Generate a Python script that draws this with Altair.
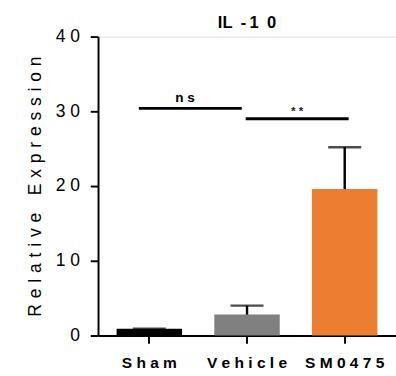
import altair as alt
import pandas as pd

# ---- data ----
groups = ["Sham", "Vehicle", "SM0475"]
means = [0.9, 2.8, 19.6]
uppers = [0.9, 4.0, 25.2]
colors = ["#000000", "#808080", "#ED7D31"]

ns_y = 30.4
star_y = 29.0

FONT = "Liberation Sans"
GAP = "\u2005\u200a"

df = pd.DataFrame({"group": groups, "mean": means, "upper": uppers})

x_scale = alt.Scale(domain=groups, paddingInner=0.33, paddingOuter=0.19)
y_scale = alt.Scale(domain=[0, 40], nice=False)
color_scale = alt.Scale(domain=groups, range=colors)

x_axis = alt.Axis(
    title=None, labelAngle=0, grid=False,
    labelExpr="join(split(datum.label, ''), '\u00a0')",
    labelFont=FONT, labelFontWeight="bold", labelFontSize=16, labelColor="black",
    labelPadding=12, tickSize=8, tickWidth=2, tickColor="black",
    domainColor="black", domainWidth=2,
)
y_axis = alt.Axis(
    title=GAP.join("Relative") + "\u2003" + GAP.join("Expression"),
    titleFont=FONT, titleFontSize=18, titleFontWeight="normal", titleColor="black",
    titlePadding=11,
    values=[0, 10, 20, 30, 40], grid=False,
    labelExpr="join(split(datum.label, ''), '\u00a0')",
    labelFont=FONT, labelFontSize=18, labelColor="black", labelPadding=11,
    tickSize=8, tickWidth=2, tickColor="black",
    domainColor="black", domainWidth=2,
)

base = alt.Chart(df)

bars = base.mark_bar().encode(
    x=alt.X("group:N", scale=x_scale, axis=x_axis, sort=groups),
    y=alt.Y("mean:Q", scale=y_scale, axis=y_axis),
    color=alt.Color("group:N", scale=color_scale, legend=None),
)

err = base.mark_rule(color="black", strokeWidth=2.5).encode(
    x=alt.X("group:N", scale=x_scale, sort=groups),
    y=alt.Y("mean:Q", scale=y_scale),
    y2="upper:Q",
)

caps = base.mark_tick(color="black", thickness=2.5, size=34).encode(
    x=alt.X("group:N", scale=x_scale, sort=groups),
    y=alt.Y("upper:Q", scale=y_scale),
)

ns_df = pd.DataFrame({"g1": ["Sham"], "g2": ["Vehicle"], "y": [ns_y], "label": ["n\u00a0s"]})
st_df = pd.DataFrame({"g1": ["Vehicle"], "g2": ["SM0475"], "y": [star_y], "label": ["*\u00a0*"]})

ns_line = alt.Chart(ns_df).mark_rule(color="black", strokeWidth=3).encode(
    x=alt.X("g1:N", scale=x_scale, bandPosition=0.34),
    x2=alt.X2("g2:N", bandPosition=0.42),
    y=alt.Y("y:Q", scale=y_scale),
)
ns_text = alt.Chart(ns_df).mark_text(
    font=FONT, fontSize=14, fontWeight="bold", color="black", baseline="bottom", dy=-4, dx=3
).encode(
    x=alt.X("g1:N", scale=x_scale, bandPosition=1),
    y=alt.Y("y:Q", scale=y_scale),
    text="label:N",
)
st_line = alt.Chart(st_df).mark_rule(color="black", strokeWidth=3).encode(
    x=alt.X("g1:N", scale=x_scale, bandPosition=0.48),
    x2=alt.X2("g2:N", bandPosition=0.56),
    y=alt.Y("y:Q", scale=y_scale),
)
st_text = alt.Chart(st_df).mark_text(
    font=FONT, fontSize=12, fontWeight="bold", color="#222222", baseline="bottom", dy=-1, dx=18
).encode(
    x=alt.X("g1:N", scale=x_scale, bandPosition=1),
    y=alt.Y("y:Q", scale=y_scale),
    text="label:N",
)

chart = alt.layer(bars, err, caps, ns_line, ns_text, st_line, st_text).properties(
    width=307, height=308,
    title=alt.TitleParams(
        text="IL\u2002-\u20091\u20020", font=FONT, fontSize=17, fontWeight="bold",
        color="black", anchor="middle", offset=4, dy=8,
    ),
    autosize=alt.AutoSizeParams(type="none"),
    padding={"left": 101, "top": 32, "right": 0, "bottom": 36},
).configure_view(stroke=None).configure(background="white")

chart.save("out.html", embed_options={"renderer": "svg", "actions": False})
